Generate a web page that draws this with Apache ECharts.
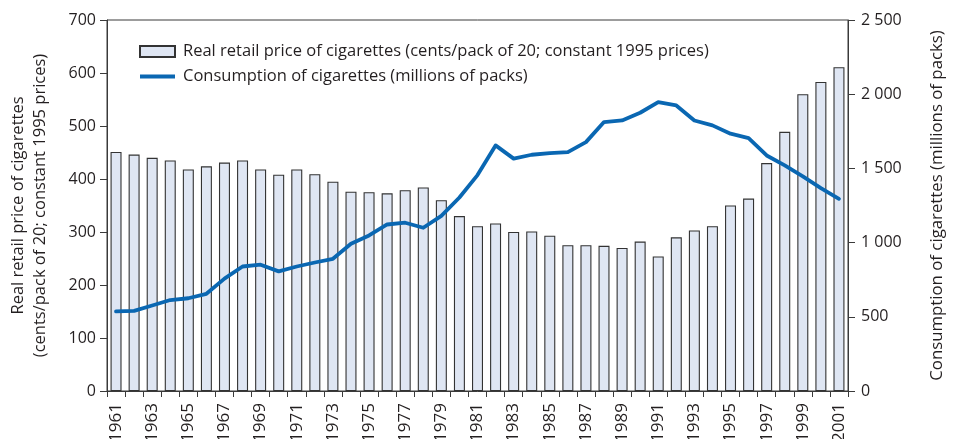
<!DOCTYPE html>
<html>
<head>
<meta charset="utf-8">
<script src="https://cdn.jsdelivr.net/npm/echarts@6/dist/echarts.min.js"></script>
<style>
html,body{margin:0;padding:0;background:#fff;}
#chart{width:962px;height:439px;}
</style>
</head>
<body>
<div id="chart"></div>
<script>
const years = [];
for (let y = 1961; y <= 2001; y++) years.push(String(y));

const priceName = 'Real retail price of cigarettes (cents/pack of 20; constant 1995 prices)';
const consumptionName = 'Consumption of cigarettes (millions of packs)';

const price = [451, 446, 440, 435, 418, 424, 431, 435, 418, 408,
               418, 409, 395, 376, 375, 373, 379, 384, 360, 330,
               311, 316, 300, 301, 293, 275, 275, 274, 270, 282,
               254, 290, 303, 311, 350, 363, 430, 489, 560, 583, 611];

const consumption = [536, 540, 576, 613, 625, 655, 757, 839, 851, 806,
                     839, 866, 891, 992, 1048, 1122, 1134, 1100, 1180, 1304,
                     1455, 1655, 1566, 1592, 1603, 1610, 1677, 1812, 1823, 1875,
                     1947, 1924, 1823, 1790, 1734, 1704, 1587, 1520, 1446, 1367, 1295];

const leftTicks = {min: 0, max: 700, interval: 100};
const rightTicks = {min: 0, max: 2500, interval: 500};

const FONT = 'Open Sans';
const TXT = '#231f20';
const AX = '#3a3a3a';
const BLUE = '#0a67b2';

function thousands(v) {
  return String(v).replace(/\B(?=(\d{3})+(?!\d))/g, ' ');
}

const chart = echarts.init(document.getElementById('chart'), null, {renderer: 'canvas'});
chart.setOption({
  animation: false,
  backgroundColor: '#ffffff',
  textStyle: {fontFamily: FONT, color: TXT},
  grid: {left: 107, right: 114, top: 20, bottom: 48, containLabel: false, outerBoundsMode: 'none',
         show: true, borderColor: AX, borderWidth: 1, backgroundColor: 'transparent'},
  legend: {
    orient: 'vertical',
    left: 139,
    top: 43,
    padding: 0,
    itemWidth: 35,
    itemHeight: 11,
    itemGap: 8,
    textStyle: {fontFamily: FONT, fontSize: 16.5, color: TXT, padding: [0, 0, 0, 3]},
    data: [
      {name: priceName, icon: 'rect'},
      {name: consumptionName,
       icon: 'path://M0,0 M35,11 M0,3.6 L35,3.6 L35,7.6 L0,7.6 Z',
       itemStyle: {color: BLUE, borderWidth: 0}}
    ]
  },
  xAxis: {
    type: 'category',
    data: years,
    boundaryGap: true,
    axisLine: {lineStyle: {color: AX, width: 1}},
    axisTick: {show: true, interval: 0, length: 6, lineStyle: {color: AX}},
    axisLabel: {interval: 1, rotate: 90, fontSize: 17, fontFamily: FONT, color: TXT, margin: 12}
  },
  yAxis: [
    {
      type: 'value',
      min: leftTicks.min, max: leftTicks.max, interval: leftTicks.interval,
      name: 'Real retail price of cigarettes\n(cents/pack of 20; constant 1995 prices)',
      nameLocation: 'middle',
      nameRotate: 90,
      nameGap: 56,
      nameTextStyle: {fontFamily: FONT, fontSize: 16.5, color: TXT, lineHeight: 22},
      axisLine: {show: true, lineStyle: {color: AX, width: 1}},
      axisTick: {show: true, length: 7, lineStyle: {color: AX}},
      axisLabel: {fontSize: 16, fontFamily: FONT, color: TXT, margin: 11},
      splitLine: {show: false}
    },
    {
      type: 'value',
      position: 'right',
      min: rightTicks.min, max: rightTicks.max, interval: rightTicks.interval,
      name: 'Consumption of cigarettes (millions of packs)',
      nameLocation: 'middle',
      nameRotate: 90,
      nameGap: 81,
      nameTextStyle: {fontFamily: FONT, fontSize: 16.8, color: TXT},
      axisLine: {show: true, lineStyle: {color: AX, width: 1}},
      axisTick: {show: true, length: 7, lineStyle: {color: AX}},
      axisLabel: {fontSize: 16, fontFamily: FONT, color: TXT, margin: 13, formatter: thousands},
      splitLine: {show: false}
    }
  ],
  series: [
    {
      name: priceName,
      type: 'bar',
      data: price,
      yAxisIndex: 0,
      barWidth: 11,
      itemStyle: {color: '#dfe6f3', borderColor: '#333333', borderWidth: 1.1}
    },
    {
      name: consumptionName,
      type: 'line',
      data: consumption,
      yAxisIndex: 1,
      symbol: 'none',
      showSymbol: false,
      z: 5,
      lineStyle: {color: BLUE, width: 3.8, join: 'round', cap: 'round'},
      itemStyle: {color: BLUE}
    }
  ]
});
</script>
</body>
</html>
